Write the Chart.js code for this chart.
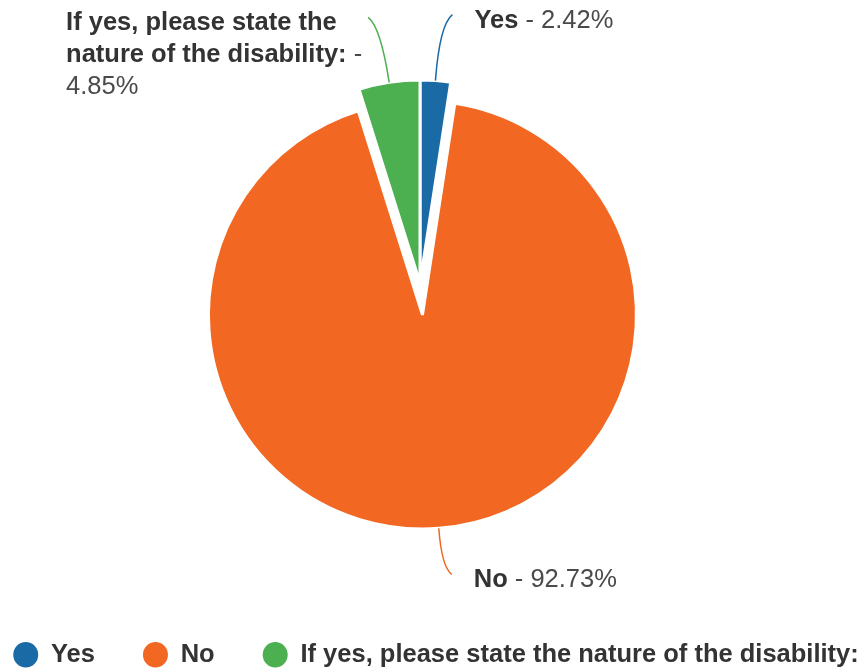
<!DOCTYPE html>
<html>
<head>
<meta charset="utf-8">
<script src="https://cdn.jsdelivr.net/npm/chart.js@4.4.1/dist/chart.umd.min.js"></script>
<style>
    html, body { margin: 0; padding: 0; background: #ffffff; }
    #wrap { width: 868px; height: 672px; }
</style>
</head>
<body>
<div id="wrap"><canvas id="disabilityChart" width="868" height="672"></canvas></div>
<script>
// answers and their share of the responses (%)
var answers = ['Yes', 'No', 'If yes, please state the nature of the disability:'];
var shares = [2.42, 92.73, 4.85];
var sliceColors = ['#1a6aa6', '#f26722', '#4caf50'];

// the "No" slice is pulled out of the pie and drawn a bit larger
var sliceExplode = [0, 32, 0];
var sliceGrow = [0, 11, 0];
var pieShift = { x: -14, y: -14 };
// where each leader line ends, relative to its point on the rim
var labelShift = [[17, -66], [13, 46], [-21, -65]];

var fontFamily = '"Liberation Sans", Arial, Helvetica, sans-serif';
var fontSize = 25.5;

function setFont(ctx, bold) {
    ctx.font = (bold ? 'bold ' : '') + fontSize + 'px ' + fontFamily;
}

// split label segments into words and wrap them greedily
function wrapSegments(ctx, segs, maxWidth) {
    var words = [];
    segs.forEach(function (s) {
        s.text.split(' ').forEach(function (w) {
            if (w) words.push({ text: w, bold: s.bold });
        });
    });
    setFont(ctx, false);
    var space = ctx.measureText(' ').width;
    var lines = [{ words: [], width: 0 }];
    words.forEach(function (w) {
        setFont(ctx, w.bold);
        w.width = ctx.measureText(w.text).width;
        var line = lines[lines.length - 1];
        var add = line.words.length ? space + w.width : w.width;
        if (line.words.length && line.width + add > maxWidth) {
            lines.push({ words: [w], width: w.width });
        } else {
            line.words.push(w);
            line.width += add;
        }
    });
    lines.space = space;
    return lines;
}

// moves the arcs after Chart.js has laid them out
var piePlacement = {
    id: 'piePlacement',
    afterDatasetUpdate: function (chart, args) {
        args.meta.data.forEach(function (arc, i) {
            var mid = (arc.startAngle + arc.endAngle) / 2;
            arc.x += pieShift.x + Math.cos(mid) * sliceExplode[i];
            arc.y += pieShift.y + Math.sin(mid) * sliceExplode[i];
            arc.outerRadius += sliceGrow[i];
        });
    }
};

// data labels with curved leader lines
var pieLabels = {
    id: 'pieLabels',
    afterDraw: function (chart) {
        var ctx = chart.ctx;
        var meta = chart.getDatasetMeta(0);
        ctx.save();
        meta.data.forEach(function (arc, i) {
            var mid = (arc.startAngle + arc.endAngle) / 2;
            var dx = Math.cos(mid), dy = Math.sin(mid);
            var ax = arc.x + dx * arc.outerRadius;
            var ay = arc.y + dy * arc.outerRadius;
            var ex = ax + labelShift[i][0];
            var ey = ay + labelShift[i][1];
            var t = (ey - ay) / dy * 0.85;

            ctx.beginPath();
            ctx.moveTo(ax, ay);
            ctx.quadraticCurveTo(ax + dx * t, ay + dy * t, ex, ey);
            ctx.strokeStyle = sliceColors[i];
            ctx.lineWidth = 1.5;
            ctx.stroke();

            var segs = [
                { text: answers[i], bold: true },
                { text: '- ' + shares[i].toFixed(2) + '%', bold: false }
            ];
            var onLeft = ex < ax;
            var lines = wrapSegments(ctx, segs, onLeft ? 310 : 400);
            var blockWidth = Math.max.apply(null, lines.map(function (l) { return l.width; }));
            var left = onLeft ? ex - 6 - blockWidth : ex + 22;
            ctx.textBaseline = 'middle';
            ctx.textAlign = 'left';
            lines.forEach(function (line, li) {
                var x = left;
                var y = ey + 6 + li * 32;
                line.words.forEach(function (w, wi) {
                    if (wi) x += lines.space;
                    setFont(ctx, w.bold);
                    ctx.fillStyle = w.bold ? '#333333' : '#4a4a4a';
                    ctx.fillText(w.text, x, y);
                    x += w.width;
                });
            });
        });
        ctx.restore();
    }
};

var ctxPie = document.getElementById('disabilityChart').getContext('2d');
var disabilityChart = new Chart(ctxPie, {
    type: 'pie',
    data: {
        labels: answers,
        datasets: [{
            data: shares,
            backgroundColor: sliceColors,
            borderColor: '#ffffff',
            borderWidth: 3,
            radius: 203
        }]
    },
    options: {
        responsive: false,
        animation: false,
        events: [],
        layout: {
            padding: { left: -38, right: -42, top: 0, bottom: 0 }
        },
        plugins: {
            tooltip: { enabled: false },
            legend: {
                position: 'bottom',
                maxHeight: 78,
                labels: {
                    usePointStyle: true,
                    pointStyle: 'circle',
                    pointStyleWidth: 25,
                    boxHeight: 18,
                    padding: 48,
                    color: '#333333',
                    font: { family: fontFamily, size: fontSize, weight: 'bold' },
                    generateLabels: function (chart) {
                        var items = Chart.overrides.pie.plugins.legend.labels.generateLabels(chart);
                        items.forEach(function (item) {
                            item.lineWidth = 0;
                            item.strokeStyle = item.fillStyle;
                        });
                        return items;
                    }
                }
            }
        }
    },
    plugins: [piePlacement, pieLabels]
});
</script>
</body>
</html>
